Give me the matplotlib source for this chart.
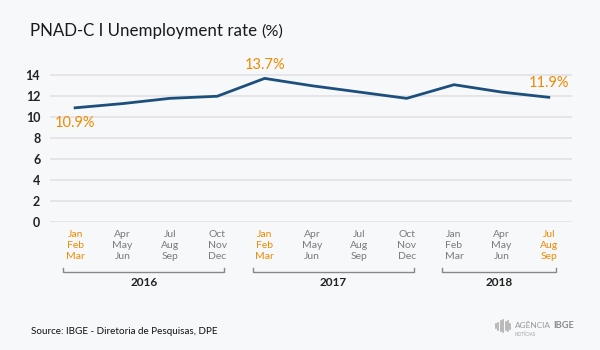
import matplotlib
matplotlib.use("Agg")
import matplotlib.pyplot as plt

quarters_top = ["Jan", "Apr", "Jul", "Oct", "Jan", "Apr", "Jul", "Oct", "Jan", "Apr", "Jul"]
quarters_mid = ["Feb", "May", "Aug", "Nov", "Feb", "May", "Aug", "Nov", "Feb", "May", "Aug"]
quarters_bot = ["Mar", "Jun", "Sep", "Dec", "Mar", "Jun", "Sep", "Dec", "Mar", "Jun", "Sep"]
rates = [10.9, 11.3, 11.8, 12.0, 13.7, 13.0, 12.4, 11.8, 13.1, 12.4, 11.9]
years = ["2016", "2017", "2018"]
year_start = [0, 4, 8]
year_end = [3, 7, 10]
highlight = [0, 4, 10]
yticks = [0, 2, 4, 6, 8, 10, 12, 14]

BG = "#F7F8FA"
LINE = "#1D4F7C"
ORANGE = "#F08A00"
GRAY = "#7A7A7A"
FONT = "Lato"

plt.rcParams['font.family'] = [FONT, 'DejaVu Sans']

fig = plt.figure(figsize=(6, 3.5), dpi=100, facecolor=BG)
ax = fig.add_axes([50/600, (350-222.3)/350, 522/600, (222.3-70)/350])
ax.set_facecolor(BG)
renderer = fig.canvas.get_renderer()


def fit_text(t, width_px):
    bb = t.get_window_extent(renderer)
    t.set_fontsize(t.get_fontsize() * width_px / bb.width)
    return t


x = list(range(len(rates)))
ax.plot(x, rates, color=LINE, lw=2, solid_joinstyle='miter', zorder=3)
ax.set_xlim(-0.53, 10.49)
ax.set_ylim(0, 14.5)
ax.set_yticks(yticks)
ax.set_yticklabels([str(v) for v in yticks], fontsize=9, fontweight='bold', color="#222222")
ax.tick_params(axis='y', length=0, pad=7)
ax.grid(axis='y', color="#E2E2E6", lw=1.2)
ax.set_axisbelow(True)
for s in ax.spines.values():
    s.set_visible(False)
ax.set_xticks([])

# x labels
trans = ax.get_xaxis_transform()
for i in x:
    c = ORANGE if i in highlight else GRAY
    ax.text(i, -(230 - 222.3) / (222.3 - 70),
            quarters_top[i] + "\n" + quarters_mid[i] + "\n" + quarters_bot[i],
            transform=trans, ha='center', va='top', fontsize=7.5,
            color=c, linespacing=1.28)

# year brackets
yb = -(271.7 - 222.3) / (222.3 - 70)
yt = -(267.5 - 222.3) / (222.3 - 70)
ylab = -(283 - 222.3) / (222.3 - 70)
for name, s, e in zip(years, year_start, year_end):
    x0, x1 = s - 0.25, e + 0.15
    ax.plot([x0, x0, x1, x1], [yt, yb, yb, yt], transform=trans, color="#888888",
            lw=1, clip_on=False)
    ax.text((x0 + x1) / 2, ylab, name, transform=trans, ha='center', va='center',
            fontsize=8.5, fontweight='bold', color="#222222")

# annotations
ax.annotate("10.9%", (0, rates[0]), xytext=(0, -11), textcoords='offset points',
            ha='center', va='center', fontsize=10.5, color=ORANGE)
ax.annotate("13.7%", (4, rates[4]), xytext=(0, 9.5), textcoords='offset points',
            ha='center', va='center', fontsize=10.5, color=ORANGE)
ax.annotate("11.9%", (10, rates[10]), xytext=(0, 10), textcoords='offset points',
            ha='center', va='center', fontsize=10.5, color=ORANGE)

# title
t1 = fig.text(30/600, 1 - 31/350, "PNAD-C I Unemployment rate", fontsize=13,
              color="#1a1a1a", va='center', ha='left')
fit_text(t1, 226)
t2 = fig.text(261/600, 1 - 32/350, "(%)", fontsize=10, color="#1a1a1a", va='center', ha='left')
fit_text(t2, 22)

# source
t3 = fig.text(31/600, 1 - 331/350, "Source: IBGE - Diretoria de Pesquisas, DPE", fontsize=8,
              color="#111111", va='center', ha='left')
fit_text(t3, 187)

# logo
t4 = fig.text(515/600, 1 - 325/350, "AGÊNCIA", fontsize=6.5, color="#9A9A9A", va='center', ha='left')
fit_text(t4, 36)
t5 = fig.text(553/600, 1 - 325/350, "IBGE", fontsize=6.5, color="#8A8A8A", va='center', ha='left',
              fontweight='bold')
fit_text(t5, 21)
t6 = fig.text(515/600, 1 - 334/350, "NOTÍCIAS", fontsize=4, color="#A0A0A0", va='center', ha='left')
fit_text(t6, 21)
for k, h in enumerate([4, 7, 10, 12, 8, 10, 5]):
    fig.add_artist(plt.Line2D([(496 + k * 2.4)/600]*2, [1 - (326 + h/2)/350, 1 - (326 - h/2)/350],
                              color="#A8A8A8", lw=1.1))

fig.savefig("out.png", dpi=100, facecolor=BG)
